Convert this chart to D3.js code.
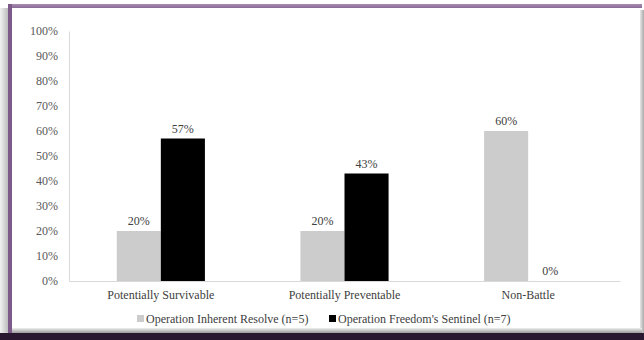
<!DOCTYPE html>
<html><head><meta charset="utf-8">
<script src="https://cdn.jsdelivr.net/npm/d3@7"></script>
<style>html,body{margin:0;padding:0;background:#fff;}svg{display:block;}
svg text{font-family:"Liberation Serif","Times New Roman",Times,serif !important;}</style>
</head><body>
<svg id="c" width="644" height="340"></svg>
<script>
const categories = ["Potentially Survivable", "Potentially Preventable", "Non-Battle"];
const seriesNames = ["Operation Inherent Resolve (n=5)", "Operation Freedom's Sentinel (n=7)"];
const oirValues = [20, 20, 60];
const ofsValues = [57, 43, 0];
const yTicks = [0,10,20,30,40,50,60,70,80,90,100];
const colors = ["#cccccc", "#000000"];

const svg = d3.select("#c");
const font = "Liberation Serif, Times New Roman, serif";

// frame
const defs = svg.append("defs");
const gl = defs.append("linearGradient").attr("id","lsh").attr("x1","0").attr("x2","1");
gl.append("stop").attr("offset","0").attr("stop-color","#f2f2f2");
gl.append("stop").attr("offset","1").attr("stop-color","#bdbdbd");
const gr = defs.append("linearGradient").attr("id","rsh").attr("x1","0").attr("x2","1");
gr.append("stop").attr("offset","0").attr("stop-color","#e8e8e8");
gr.append("stop").attr("offset","1").attr("stop-color","#a9a9a9");
const gb = defs.append("linearGradient").attr("id","bsh").attr("x1","0").attr("x2","0").attr("y1","0").attr("y2","1");
gb.append("stop").attr("offset","0").attr("stop-color","#f0f0f0");
gb.append("stop").attr("offset","1").attr("stop-color","#9a9a9a");
const gt = defs.append("linearGradient").attr("id","tband").attr("x1","0").attr("x2","0").attr("y1","0").attr("y2","1");
gt.append("stop").attr("offset","0").attr("stop-color","#a98eb0");
gt.append("stop").attr("offset","1").attr("stop-color","#8a6a95");

svg.append("rect").attr("x",0).attr("y",0).attr("width",644).attr("height",340).attr("fill","#ffffff");
svg.append("rect").attr("x",0).attr("y",8).attr("width",8).attr("height",326).attr("fill","url(#lsh)");
svg.append("rect").attr("x",640).attr("y",10).attr("width",4).attr("height",324).attr("fill","url(#rsh)");
svg.append("rect").attr("x",12).attr("y",328).attr("width",630).attr("height",5).attr("fill","url(#bsh)");
svg.append("rect").attr("x",8).attr("y",4).attr("width",634).attr("height",4).attr("fill","url(#tband)");
svg.append("rect").attr("x",8).attr("y",4).attr("width",4).attr("height",332).attr("fill","#7d5a89");
svg.append("rect").attr("x",0).attr("y",333).attr("width",644).attr("height",7).attr("fill","#2a1830");

const m = {left:69, right:620, top:31, bottom:281};
const x0 = d3.scaleBand().domain(categories).range([m.left, m.right]).paddingInner(0.52).paddingOuter(0.26);
const x1 = d3.scaleBand().domain([0,1]).range([0, x0.bandwidth()]);
const y = d3.scaleLinear().domain([0,100]).range([m.bottom, m.top]);

// axes
const yAxis = svg.append("g").attr("transform",`translate(${m.left},0)`)
  .call(d3.axisLeft(y).tickValues(yTicks).tickFormat(d=>d+"%").tickSize(0).tickPadding(11));
yAxis.attr("font-family", font);
yAxis.select(".domain").attr("stroke","#d9d9d9");
yAxis.selectAll("text").attr("font-size","12px").attr("fill","#595959");

const xAxis = svg.append("g").attr("transform",`translate(0,${m.bottom})`)
  .call(d3.axisBottom(x0).tickSize(0).tickPadding(9));
xAxis.attr("font-family", font);
xAxis.select(".domain").attr("stroke","#d9d9d9");
xAxis.selectAll("text").attr("font-size","12px").attr("fill","#404040");

const series = [oirValues, ofsValues];
const g = svg.append("g").attr("font-family", font);
series.forEach((vals, si) => {
  g.selectAll(".b"+si).data(categories).enter().append("rect")
    .attr("x", c => x0(c) + x1(si))
    .attr("y", (c,i) => y(vals[i]))
    .attr("width", x1.bandwidth())
    .attr("height", (c,i) => y(0) - y(vals[i]))
    .attr("fill", colors[si]);
  g.selectAll(".l"+si).data(categories).enter().append("text")
    .attr("x", c => x0(c) + x1(si) + x1.bandwidth()/2)
    .attr("y", (c,i) => y(vals[i]) - 6)
    .attr("text-anchor","middle")
    .attr("font-size","12px").attr("fill","#404040")
    .text((c,i) => vals[i] + "%");
});

// legend
const legX = [137, 329];
const lg = svg.append("g").attr("font-family", font);
seriesNames.forEach((n, i) => {
  lg.append("rect").attr("x", legX[i]).attr("y", 315).attr("width", 7).attr("height", 7).attr("fill", colors[i]);
  lg.append("text").attr("x", legX[i] + 9).attr("y", 322.5)
    .attr("font-size","12px").attr("fill","#404040").text(n);
});
</script>
</body></html>
